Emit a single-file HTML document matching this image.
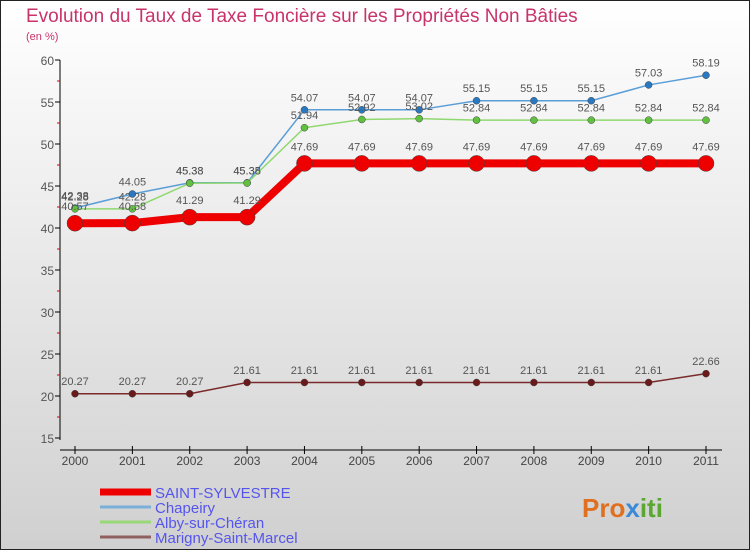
<!DOCTYPE html>
<html><head><meta charset="utf-8"><style>
body{margin:0;width:750px;height:550px;overflow:hidden;font-family:"Liberation Sans",sans-serif}
</style></head><body>
<svg width="750" height="550" xmlns="http://www.w3.org/2000/svg">
<defs><linearGradient id="bg" x1="0" y1="0" x2="0" y2="1"><stop offset="0" stop-color="#ffffff"/><stop offset="1" stop-color="#d0d0d0"/></linearGradient></defs>
<rect x="0.5" y="0.5" width="749" height="549" fill="url(#bg)" stroke="#222"/>
<text x="26" y="22" font-size="19" fill="#c8336a">Evolution du Taux de Taxe Foncière sur les Propriétés Non Bâties</text>
<text x="26" y="40" font-size="11" fill="#c8336a">(en %)</text>
<g id="axes"></g>
<g id="series"></g>
<g id="legend"></g>
<text x="582" y="517" font-size="26" font-weight="bold" fill="#e07020">Pro<tspan fill="#3a8ad8">x</tspan><tspan fill="#5aa830">iti</tspan></text>
</svg>
<script>
const years=[2000,2001,2002,2003,2004,2005,2006,2007,2008,2009,2010,2011];
const yTicks=[15,20,25,30,35,40,45,50,55,60];
const saintSylvestre=[40.57,40.58,41.29,41.29,47.69,47.69,47.69,47.69,47.69,47.69,47.69,47.69];
const chapeiry=[42.38,44.05,45.38,45.38,54.07,54.07,54.07,55.15,55.15,55.15,57.03,58.19];
const alby=[42.28,42.28,45.33,45.35,51.94,52.92,53.02,52.84,52.84,52.84,52.84,52.84];
const marigny=[20.27,20.27,20.27,21.61,21.61,21.61,21.61,21.61,21.61,21.61,21.61,22.66];
const NS="http://www.w3.org/2000/svg";
const xs=i=>75+i*(706-75)/(years.length-1);
const ys=v=>60+(60-v)*(438-60)/45;
function mk(tag,attrs,parent){const e=document.createElementNS(NS,tag);for(const k in attrs)e.setAttribute(k,attrs[k]);parent.appendChild(e);return e;}
const ax=document.getElementById('axes');
let yl=mk('line',{x1:60,y1:60,x2:60,y2:440,stroke:'#000'},ax);


yTicks.forEach(t=>{
 const y=ys(t);
 const tk=mk('line',{x1:55,y1:y,x2:60,y2:y,stroke:'#000'},ax);
 
 
 if(t>yTicks[0]){
  const mt=mk('line',{x1:57,y1:y+21,x2:60,y2:y+21,stroke:'#d00'},ax);
  
  
 }
 const tx=mk('text',{x:54,y:y+5,'font-size':12,fill:'#555','text-anchor':'end'},ax);
 tx.textContent=t;
 
 
});
let xl=mk('line',{x1:60,y1:450,x2:722,y2:450,stroke:'#000'},ax);


years.forEach((yr,i)=>{
 const x=xs(i);
 const tk=mk('line',{x1:x,y1:446,x2:x,y2:454,stroke:'#000'},ax);
 
 
 const tx=mk('text',{x:x,y:465,'font-size':12,fill:'#444','text-anchor':'middle'},ax);
 tx.textContent=yr;
 
 
});
const sg=document.getElementById('series');
const series=[
 {name:'marigny',data:marigny,color:'#7a2a2a',w:1.5,r:3.5,fill:'#6a1a1a'},
 {name:'chapeiry',data:chapeiry,color:'#5a9ed8',w:1.5,r:3.5,fill:'#2a78c0'},
 {name:'alby',data:alby,color:'#90d870',w:1.5,r:3.5,fill:'#60c040'},
 {name:'saint-sylvestre',data:saintSylvestre,color:'#ee0000',w:8,r:8,fill:'#ee0000'}
];
series.forEach(s=>{
 const pts=s.data.map((v,i)=>xs(i)+','+ys(v)).join(' ');
 const pl=mk('polyline',{points:pts,fill:'none',stroke:s.color,'stroke-width':s.w},sg);
 
 
 s.data.forEach((v,i)=>{
  const c=mk('circle',{cx:xs(i),cy:ys(v),r:s.r,fill:s.fill,stroke:'#444','stroke-width':0.5},sg);
  
  
  const t=mk('text',{x:xs(i),y:ys(v)-(s.r+5),'font-size':11,fill:'#555','text-anchor':'middle'},sg);
  t.textContent=v.toFixed(2).replace(/0$/,'');
  
  
 });
});
const lg=document.getElementById('legend');
const legend=[['SAINT-SYLVESTRE','#ee0000',7],['Chapeiry','#7ab0d8',3],['Alby-sur-Chéran','#98d878',3],['Marigny-Saint-Marcel','#906060',3]];
legend.forEach((l,i)=>{
 const y=492+i*15;
 const r=mk('rect',{x:100,y:y-l[2]/2,width:51,height:l[2],fill:l[1]},lg);
 
 
 const t=mk('text',{x:155,y:y+6,'font-size':15,fill:'#5555ee'},lg);
 t.textContent=l[0];
 
 
});
</script>
</body></html>
